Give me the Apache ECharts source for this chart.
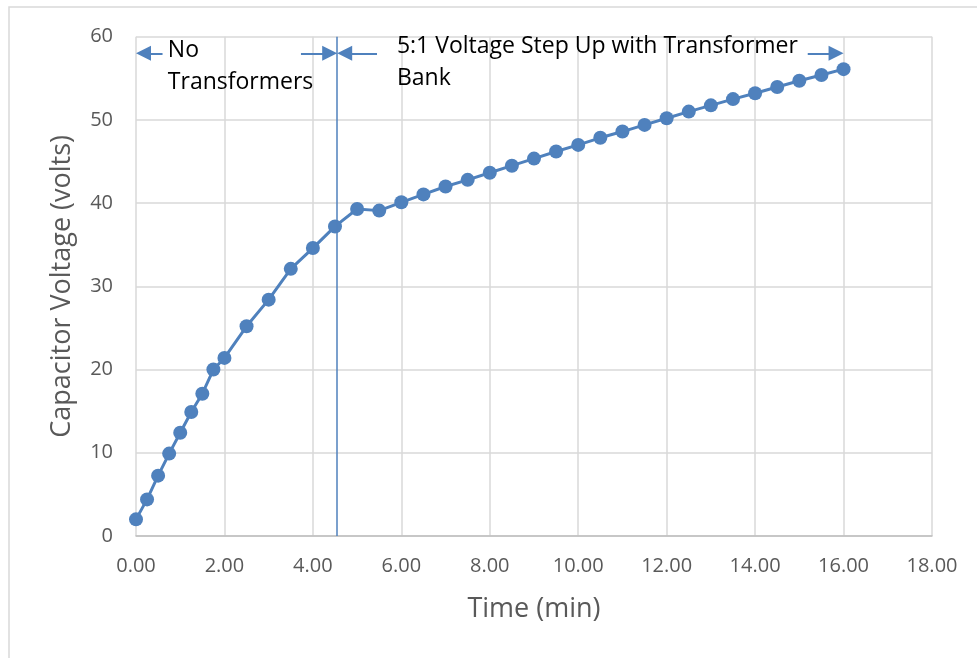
<!DOCTYPE html>
<html>
<head>
<meta charset="utf-8">
<script src="https://cdn.jsdelivr.net/npm/echarts@6/dist/echarts.min.js"></script>
<style>html,body{margin:0;padding:0;background:#fff}#c{width:977px;height:658px}</style>
</head>
<body>
<div id="c"></div>
<script>
const times = [0,0.25,0.5,0.75,1,1.25,1.5,1.75,2,2.5,3,3.5,4,4.5,5,5.5,6,6.5,7,7.5,8,8.5,9,9.5,10,10.5,11,11.5,12,12.5,13,13.5,14,14.5,15,15.5,16];
const voltages = [2.0,4.4,7.25,9.9,12.4,14.9,17.1,20.0,21.4,25.2,28.4,32.1,34.6,37.2,39.3,39.1,40.1,41.05,42.0,42.8,43.65,44.5,45.35,46.2,47.0,47.85,48.6,49.4,50.2,51.0,51.75,52.5,53.2,53.95,54.7,55.4,56.1];
const xAxisRange = [0, 18, 2];
const yAxisRange = [0, 60, 10];
const dividerTime = 4.55;
const arrowLevel = 58;
// [tail time, tip time]
const arrows = [[0.6, 0], [3.73, dividerTime], [5.45, dividerTime], [15.19, 16]];
const notes = [
  {text: 'No\nTransformers', t: 0.72, v: 56.4},
  {text: '5:1 Voltage Step Up with Transformer\nBank', t: 5.9, v: 56.9}
];
const xTitle = 'Time (min)';
const yTitle = 'Capacitor Voltage (volts)';

const blue = '#4F81BD';
const font = 'Open Sans';
const head = 15;
const chart = echarts.init(document.getElementById('c'));
const lineData = times.map((t, i) => [t, voltages[i]]);
chart.setOption({
  animation: false,
  graphic: [{type: 'rect', shape: {x: 9, y: 7, width: 1000, height: 700}, style: {fill: 'none', stroke: '#d9d9d9', lineWidth: 1.5}, silent: true}],
  grid: {left: 136, right: 45, top: 36.7, bottom: 122},
  xAxis: {
    type: 'value', min: xAxisRange[0], max: xAxisRange[1], interval: xAxisRange[2],
    name: xTitle, nameLocation: 'middle', nameGap: 60,
    nameTextStyle: {fontFamily: font, fontSize: 27, color: '#595959'},
    axisLine: {show: true, lineStyle: {color: '#bfbfbf', width: 1.5}},
    axisTick: {show: false},
    axisLabel: {fontFamily: font, fontSize: 20, color: '#595959', margin: 20, formatter: v => v.toFixed(2)},
    splitLine: {show: true, lineStyle: {color: '#d9d9d9', width: 1.5}}
  },
  yAxis: {
    type: 'value', min: yAxisRange[0], max: yAxisRange[1], interval: yAxisRange[2],
    name: yTitle, nameLocation: 'middle', nameGap: 60,
    nameTextStyle: {fontFamily: font, fontSize: 27, color: '#595959'},
    axisLine: {show: false},
    axisTick: {show: false},
    axisLabel: {fontFamily: font, fontSize: 20, color: '#595959', margin: 23},
    splitLine: {show: true, lineStyle: {color: '#d9d9d9', width: 1.5}}
  },
  series: [{
    type: 'line',
    data: lineData,
    symbol: 'circle', symbolSize: 14,
    lineStyle: {color: blue, width: 3},
    itemStyle: {color: blue},
    z: 3,
    markLine: {
      silent: true,
      animation: false,
      label: {show: false},
      symbol: 'none',
      lineStyle: {color: blue, width: 1.5, type: 'solid'},
      data: [
        [{coord: [dividerTime, yAxisRange[0]]}, {coord: [dividerTime, yAxisRange[1]]}]
      ].concat(arrows.map(a => [
        {coord: [a[0], arrowLevel], lineStyle: {width: 2}},
        {coord: [a[1] + (a[1] > a[0] ? -0.15 : 0.15), arrowLevel]}
      ]))
    },
    markPoint: {
      silent: true,
      symbol: 'circle', symbolSize: 0,
      data: notes.map(n => ({
        coord: [n.t, n.v],
        label: {show: true, formatter: n.text, position: 'right', distance: 0, align: 'left',
                fontFamily: font, fontSize: 23, lineHeight: 32, color: '#000'}
      }))
    }
  }, {
    type: 'scatter',
    silent: true,
    z: 4,
    symbol: 'triangle',
    symbolSize: [head, head],
    itemStyle: {color: blue, opacity: 1},
    data: arrows.map(a => {
      const right = a[1] > a[0];
      return {value: [a[1], arrowLevel], symbolRotate: right ? -90 : 90, symbolOffset: [right ? -head / 2 : head / 2, 0]};
    })
  }]
});
</script>
</body>
</html>
